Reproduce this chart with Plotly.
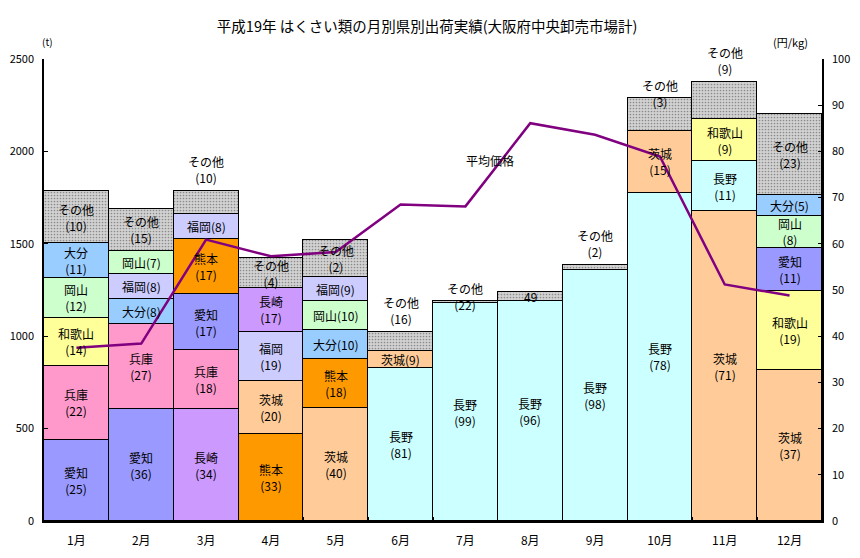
import plotly.graph_objects as go

# 月別・県別出荷量 (t) 下から積み上げ順
months = ["1月", "2月", "3月", "4月", "5月", "6月", "7月", "8月", "9月", "10月", "11月", "12月"]

stack_names = [
    ["愛知", "兵庫", "和歌山", "岡山", "大分", "その他"],
    ["愛知", "兵庫", "大分", "福岡", "岡山", "その他"],
    ["長崎", "兵庫", "愛知", "熊本", "福岡", "その他"],
    ["熊本", "茨城", "福岡", "長崎", "その他"],
    ["茨城", "熊本", "大分", "岡山", "福岡", "その他"],
    ["長野", "茨城", "その他"],
    ["長野", "その他"],
    ["長野", "その他"],
    ["長野", "その他"],
    ["長野", "茨城", "その他"],
    ["茨城", "長野", "和歌山", "その他"],
    ["茨城", "和歌山", "愛知", "岡山", "大分", "その他"],
]

stack_tons = [
    [441, 400, 259, 216, 187, 284],
    [605, 459, 140, 135, 124, 227],
    [605, 318, 303, 302, 135, 124],
    [473, 283, 266, 240, 160],
    [609, 270, 156, 153, 131, 202],
    [830, 90, 102],
    [1179, 11],
    [1190, 49],
    [1359, 27],
    [1775, 336, 180],
    [1676, 270, 229, 203],
    [819, 427, 232, 174, 112, 437],
]

# シェア (%) ラベル
stack_pct = [
    [25, 22, 14, 12, 11, 10],
    [36, 27, 8, 8, 7, 15],
    [34, 18, 17, 17, 8, 10],
    [33, 20, 19, 17, 4],
    [40, 18, 10, 10, 9, 2],
    [81, 9, 16],
    [99, 22],
    [96, 49],
    [98, 2],
    [78, 15, 3],
    [71, 11, 9, 9],
    [37, 19, 11, 8, 5, 23],
]

# 平均価格 (円/kg)
price = [37.5, 38.4, 60.9, 57.3, 58.2, 68.5, 68.1, 86.1, 83.6, 78.9, 51.2, 48.8]

# ラベルの置き方 (c2: 2行, c1: 1行, up: 棒の上, edge: 上端にかかる, val: 数値のみ)
label_mode = [
    ["c2", "c2", "c2", "c2", "c2", "c2"],
    ["c2", "c2", "c1", "c1", "c1", "c2"],
    ["c2", "c2", "c2", "c2", "c1", "up"],
    ["c2", "c2", "c2", "c2", "c2"],
    ["c2", "c2", "c1", "c1", "c1", "c2"],
    ["c2", "c1", "up"],
    ["c2", "edge"],
    ["c2", "val"],
    ["c2", "up"],
    ["c2", "c2", "edge"],
    ["c2", "c2", "c2", "up"],
    ["c2", "c2", "c2", "c2", "c1", "c2"],
]

colors = {
    "愛知": "#9999FF", "兵庫": "#FF99CC", "和歌山": "#FFFF99", "岡山": "#CCFFCC",
    "大分": "#99CCFF", "長崎": "#CC99FF", "熊本": "#FF9900", "福岡": "#CCCCFF",
    "茨城": "#FFCC99", "長野": "#CCFFFF", "その他": "#D2D2D2",
}

FONT = "Noto Sans CJK JP"

fig = go.Figure()

n_levels = max(len(s) for s in stack_names)
for lvl in range(n_levels):
    xs, ys, cols, shapes = [], [], [], []
    for m, names in enumerate(stack_names):
        if lvl < len(names):
            xs.append(months[m])
            ys.append(stack_tons[m][lvl])
            cols.append(colors[names[lvl]])
            shapes.append("." if names[lvl] == "その他" else "")
    fig.add_trace(go.Bar(
        x=xs, y=ys,
        marker=dict(color=cols, line=dict(color="black", width=1.5),
                    pattern=dict(shape=shapes, fgcolor="#a6a6a6", size=3, solidity=0.25)),
        showlegend=False, hoverinfo="x+y",
    ))

fig.add_trace(go.Scatter(
    x=months, y=price, yaxis="y2", mode="lines",
    line=dict(color="#800080", width=2.5), showlegend=False,
))

# segment labels
for m, names in enumerate(stack_names):
    base = 0
    for i, name in enumerate(names):
        v = stack_tons[m][i]
        p = stack_pct[m][i]
        mode = label_mode[m][i]
        top = base + v
        if mode == "c1":
            fig.add_annotation(x=months[m], y=base + v / 2, text=f"{name}({p})",
                               showarrow=False)
        elif mode == "c2":
            fig.add_annotation(x=months[m], y=base + v / 2, text=f"{name}<br>({p})",
                               showarrow=False)
        elif mode == "val":
            fig.add_annotation(x=months[m], y=base + v / 2, text=str(v), showarrow=False)
        elif mode == "up":
            fig.add_annotation(x=months[m], y=top, text=f"{name}<br>({p})",
                               showarrow=False, yanchor="bottom", yshift=3)
        elif mode == "edge":
            fig.add_annotation(x=months[m], y=top, text=f"{name}<br>({p})",
                               showarrow=False, yanchor="bottom", yshift=-14)
        base = top

fig.add_annotation(xref="paper", yref="paper", x=0.573, y=0.803, text="平均価格",
                   showarrow=False)
fig.add_annotation(xref="paper", yref="paper", x=-0.005, y=1.058, text="(t)",
                   showarrow=False, font=dict(size=10))
fig.add_annotation(xref="paper", yref="paper", x=0.985, y=1.058, text="(円/kg)",
                   showarrow=False, font=dict(size=11))

fig.update_layout(
    width=852, height=550,
    margin=dict(l=36, r=38, t=51, b=37),
    paper_bgcolor="white", plot_bgcolor="white",
    font=dict(family=FONT, size=12, color="black"),
    title=dict(text="平成19年 はくさい類の月別県別出荷実績(大阪府中央卸売市場計)",
               x=0.492, xanchor="center", y=0.966, yanchor="middle",
               font=dict(family=FONT, size=14.5, color="black")),
    barmode="stack", bargap=0,
    xaxis=dict(showline=True, linecolor="black", linewidth=1.5, ticks="inside",
               tickson="boundaries", ticklen=4, tickcolor="black", automargin=False,
               ticklabelstandoff=8, tickfont=dict(size=12), showgrid=False),
    yaxis=dict(range=[0, 2500], dtick=500, showline=True, linecolor="black",
               linewidth=1.5, ticks="inside", ticklen=4, tickcolor="black",
               automargin=False, ticklabelstandoff=6, showgrid=False, zeroline=False,
               tickfont=dict(size=11)),
    yaxis2=dict(range=[0, 100], dtick=10, overlaying="y", side="right",
                showline=True, linecolor="black", linewidth=1.5, ticks="inside",
                ticklen=4, tickcolor="black", automargin=False, ticklabelstandoff=6,
                showgrid=False, zeroline=False, tickfont=dict(size=11)),
)

fig.write_html("out.html")
